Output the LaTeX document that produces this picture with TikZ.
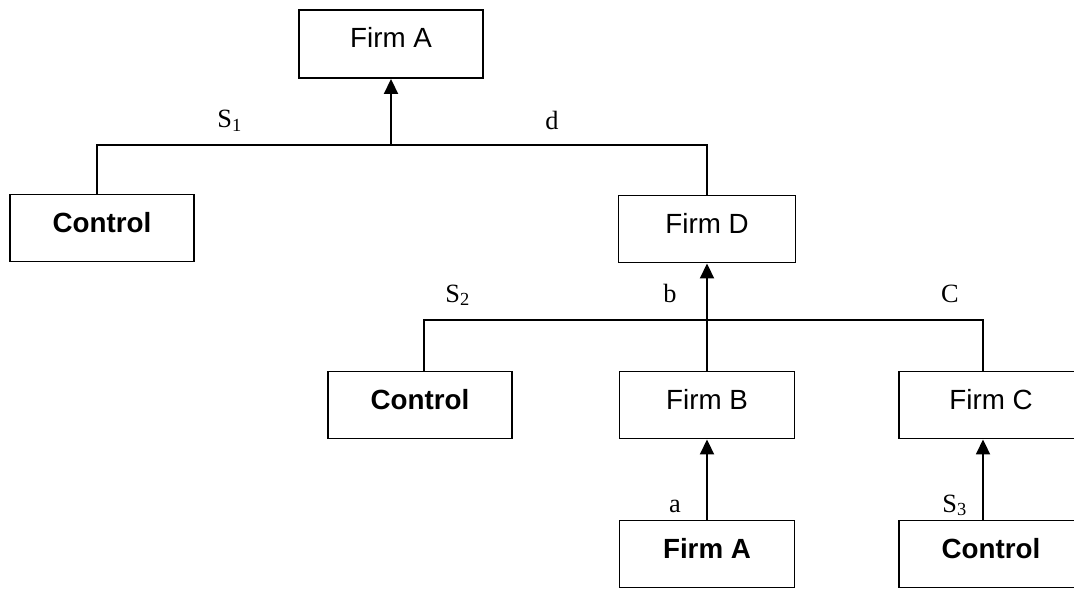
\documentclass[tikz,border=0pt]{standalone}
\usepackage{fontspec}
\setmainfont{Liberation Serif}
\setsansfont{Liberation Sans}
\usetikzlibrary{arrows.meta}

\tikzset{
	firm/.style={draw, line width=1.1pt, inner sep=0pt, minimum width=3.5cm, minimum height=1.34cm, text height=0.4cm, text depth=0.24cm, font=\sffamily\fontsize{15.8}{18}\selectfont},
	firmbold/.style={firm, font=\sffamily\bfseries\fontsize{15.8}{18}\selectfont},
	share/.style={inner sep=0pt, font=\fontsize{15}{17}\selectfont},
	link/.style={line width=1.1pt},
	own/.style={link, -{Triangle[width=0.28cm,length=0.3cm]}}
}

\begin{document}
\begin{tikzpicture}[x=0.02cm, y=-0.02cm]
				\useasboundingbox (0,0) rectangle (1074,588);
				\node[firm, minimum width=3.68cm, minimum height=1.36cm] (firmA) at (391, 44) {Firm A};
				\node[firmbold, minimum width=3.68cm] (ctrlA) at (102, 228) {Control};
				\node[firm, minimum width=3.54cm] (firmD) at (707, 229) {Firm D};
				\node[firmbold, minimum width=3.68cm] (ctrlB) at (420, 405) {Control};
				\node[firm] (firmB) at (707, 405) {Firm B};
				\node[firm, minimum width=3.68cm] (firmC) at (991, 405) {Firm C};
				\node[firmbold] (firmAb) at (707, 554) {Firm A};
				\node[firmbold, minimum width=3.68cm] (ctrlC) at (991, 554) {Control};
				\coordinate (j1) at (391, 145);
				\coordinate (j2) at (707, 320);
				% first level
				\draw[link] ([xshift=-0.1cm]ctrlA.north) |- (j1) -| (firmD.north);
				\draw[own] (j1) -- (firmA.south);
				% second level
				\draw[link] ([xshift=0.08cm]ctrlB.north) |- (j2) -| ([xshift=-0.16cm]firmC.north);
				\draw[own] (firmB.north) -- (firmD.south);
				% third level
				\draw[own] (firmAb.north) -- (firmB.south);
				\draw[own] ([xshift=-0.16cm]ctrlC.north) -- ([xshift=-0.16cm]firmC.south);
				% labels
				\node[share, anchor=base west] (s1) at (217, 128) {S\textsubscript{1}};
				\node[share, anchor=base] (d) at (552, 130) {d};
				\node[share, anchor=base west] (s2) at (445, 302) {S\textsubscript{2}};
				\node[share, anchor=base] (b) at (670, 302) {b};
				\node[share, anchor=base] (c) at (950, 302) {C};
				\node[share, anchor=base] (a) at (675, 512) {a};
				\node[share, anchor=base west] (s3) at (942, 512) {S\textsubscript{3}};
\end{tikzpicture}
\end{document}
